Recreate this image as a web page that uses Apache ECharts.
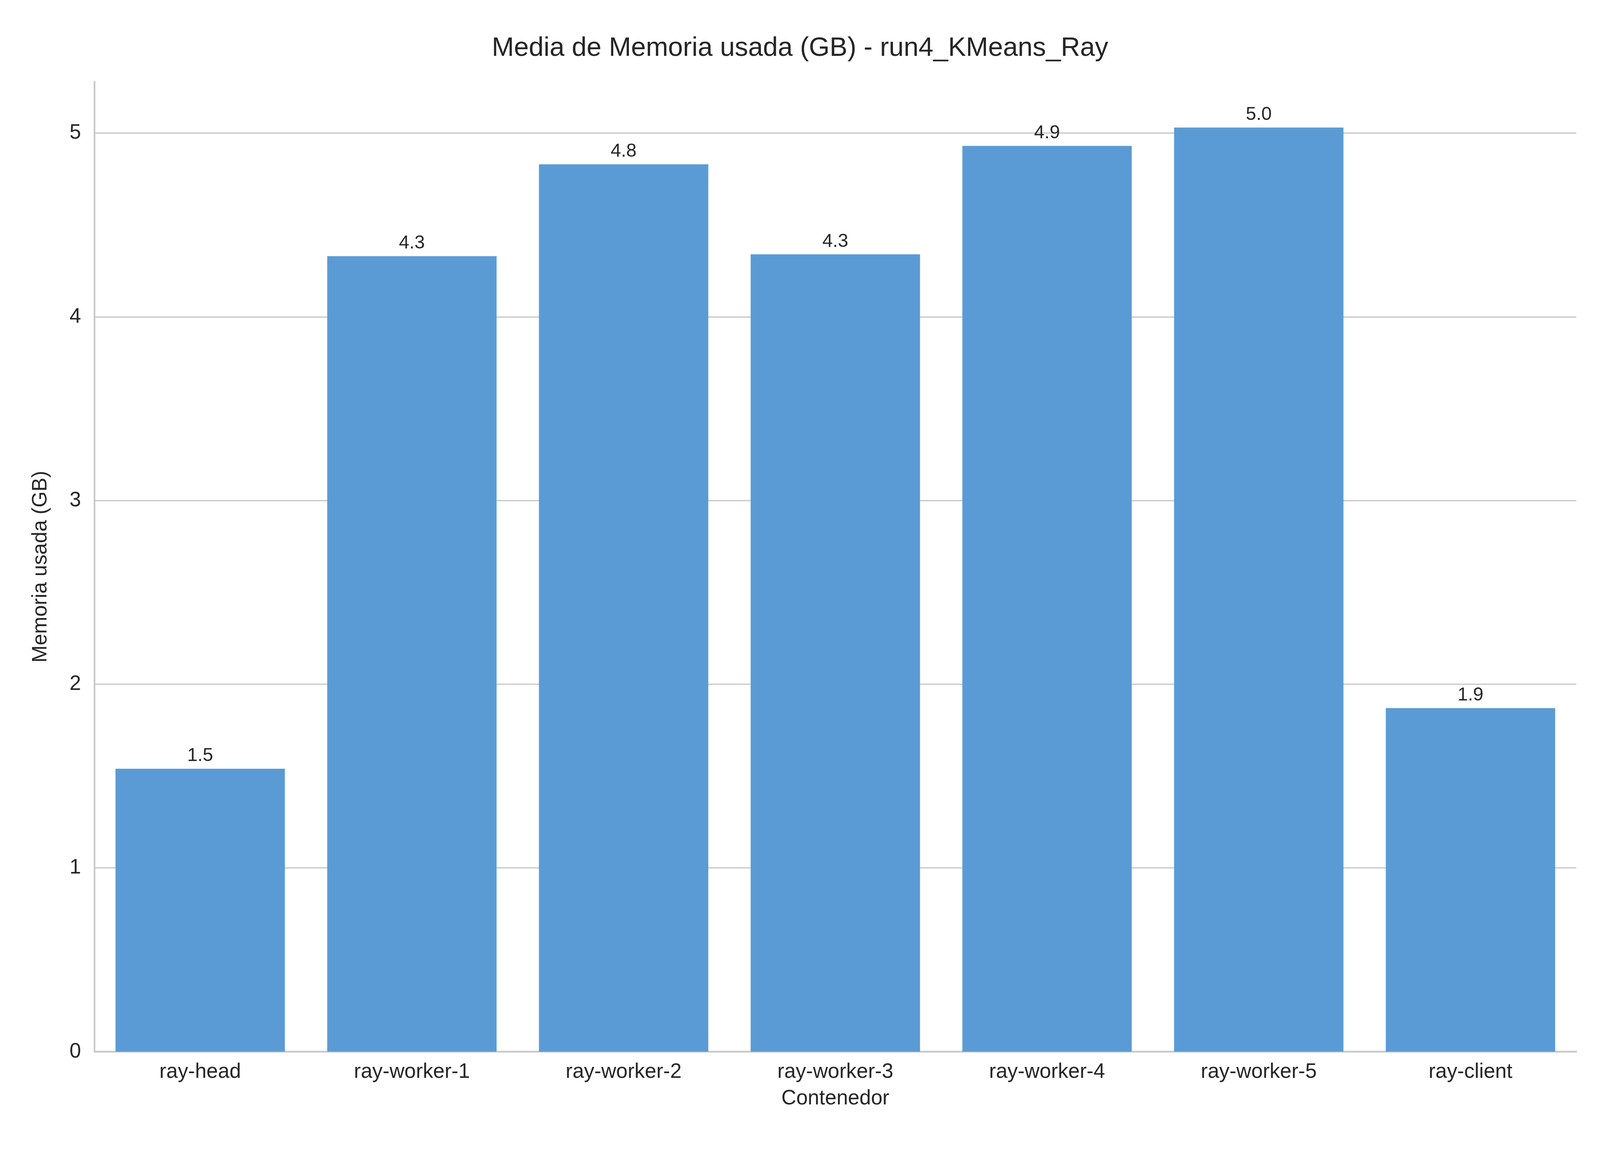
<!DOCTYPE html>
<html>
<head>
<meta charset="utf-8">
<script src="https://cdn.jsdelivr.net/npm/echarts@6/dist/echarts.min.js"></script>
<style>html,body{margin:0;padding:0;background:#fff;overflow:hidden;width:100%;height:100%}#chart{width:100%;height:100%}</style>
</head>
<body>
<div id="chart"></div>
<script>
var categories = ['ray-head', 'ray-worker-1', 'ray-worker-2', 'ray-worker-3', 'ray-worker-4', 'ray-worker-5', 'ray-client'];
var memValues = [1.54, 4.33, 4.83, 4.34, 4.93, 5.03, 1.87];
var yTicks = [0, 1, 2, 3, 4, 5];
var gridValues = [1, 2, 3, 4, 5];

var dom = document.getElementById('chart');
var myChart = echarts.init(dom);
var font = 'Arial, "Liberation Sans", sans-serif';

function build() {
    var s = dom.clientWidth / 4800;
    var sy = dom.clientHeight / 3000;
    return {
        backgroundColor: '#ffffff',
        title: {
            text: 'Media de Memoria usada (GB) - run4_KMeans_Ray',
            left: 'center',
            top: 85 * sy,
            textStyle: { fontFamily: font, fontSize: 80 * s, fontWeight: 'normal', color: '#262626' }
        },
        grid: { left: 283 * s, right: 71 * s, top: 209 * sy, bottom: 308 * sy, containLabel: false },
        xAxis: {
            type: 'category',
            data: categories,
            name: 'Contenedor',
            nameLocation: 'middle',
            nameGap: 110 * s,
            nameTextStyle: { fontFamily: font, fontSize: 62 * s, color: '#262626' },
            axisLine: { lineStyle: { color: '#c8c8c8', width: 5 * s } },
            axisTick: { show: false },
            axisLabel: { fontFamily: font, fontSize: 62 * s, color: '#262626', margin: 30 * s }
        },
        yAxis: {
            type: 'value',
            min: 0,
            max: 5.28,
            interval: 1,
            name: 'Memoria usada (GB)',
            nameLocation: 'middle',
            nameGap: 130 * s,
            nameTextStyle: { fontFamily: font, fontSize: 62 * s, color: '#262626' },
            axisLine: { show: true, lineStyle: { color: '#c8c8c8', width: 5 * s } },
            axisTick: { show: false },
            axisLabel: {
                fontFamily: font, fontSize: 62 * s, color: '#262626', margin: 40 * s,
                formatter: function (v) { return yTicks.indexOf(v) >= 0 ? String(v) : ''; }
            },
            splitLine: { show: false }
        },
        series: [{
            type: 'bar',
            data: memValues,
            barCategoryGap: '20%',
            itemStyle: { color: '#5b9bd5' },
            label: {
                show: true,
                position: 'top',
                distance: 10 * s,
                fontFamily: font,
                fontSize: 56 * s,
                color: '#262626',
                formatter: function (p) { return p.value.toFixed(1); }
            },
            markLine: {
                silent: true,
                symbol: 'none',
                z: 0,
                label: { show: false },
                lineStyle: { color: '#cccccc', width: 4 * s, type: 'solid' },
                data: gridValues.map(function (v) { return { yAxis: v }; })
            }
        }]
    };
}

myChart.setOption(build());
window.addEventListener('resize', function () { myChart.resize(); myChart.setOption(build()); });
</script>
</body>
</html>
